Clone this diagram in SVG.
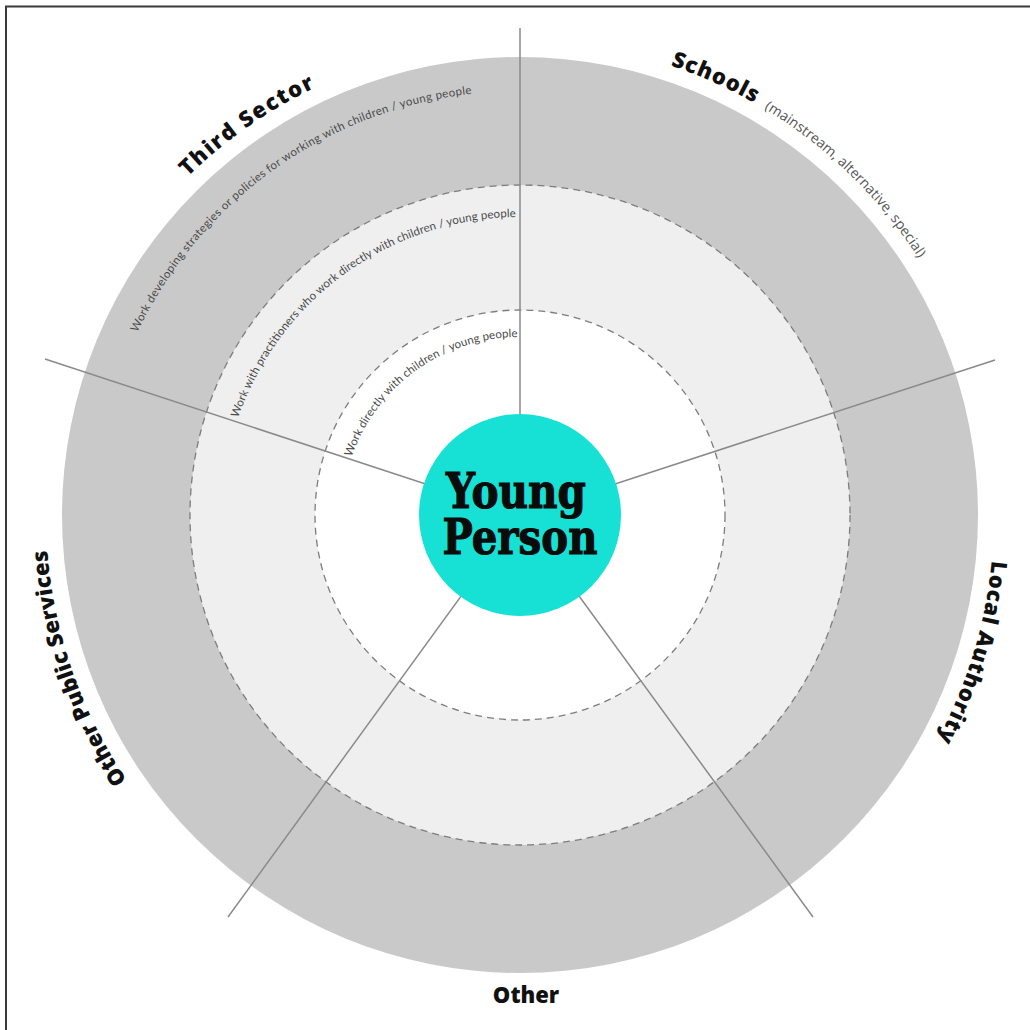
<svg xmlns="http://www.w3.org/2000/svg" xmlns:xlink="http://www.w3.org/1999/xlink" width="1030" height="1030" viewBox="0 0 1030 1030">
  <style>
    .frame { stroke: #3a3a3a; stroke-width: 2; fill: none; }
    .ring-outer { fill: #c9c9c9; }
    .ring-mid { fill: #efefef; stroke: #7d7d7d; stroke-width: 1.3; stroke-dasharray: 7 5; }
    .ring-inner { fill: #ffffff; stroke: #7d7d7d; stroke-width: 1.3; stroke-dasharray: 7 5; }
    .spoke { stroke: #8a8a8a; stroke-width: 1.5; fill: none; }
    .core { fill: #17e1d5; }
    .core-text { font-family: "DejaVu Serif", "Liberation Serif", serif; font-weight: bold; font-size: 49px; fill: #0b0b0b; stroke: #0b0b0b; stroke-width: 1.2; text-anchor: middle; }
    .sector { font-family: "Open Sans", "Lato", "DejaVu Sans", sans-serif; font-weight: 800; font-size: 22px; fill: #111; }
    .sector-note { font-family: "Open Sans", "Lato", sans-serif; font-weight: normal; font-size: 14px; fill: #555; }
    .ring-label { font-family: "Lato", "Open Sans", sans-serif; font-weight: normal; font-size: 11.5px; fill: #4a4a4a; }
  </style>
  <defs>
    <!-- arcs around the centre (520,515), drawn clockwise so lettering faces outward -->
    <path id="arc-third" d="M187.8,176.9 A474,474 0 0 1 319.7,85.4"/>
    <path id="arc-schools" d="M670.4,65.5 A474,474 0 0 1 757,104.5"/>
    <path id="arc-schools-note" d="M764.1,108.7 A474,474 0 0 1 919.8,260.3"/>
    <path id="arc-local" d="M991.8,560.4 A474,474 0 0 1 934.6,744.8"/>
    <path id="arc-public" d="M127,780.1 A474,474 0 0 1 47.2,548.1"/>
    <path id="arc-ring3" d="M137.3,332.5 A424,424 0 0 1 472,93.7"/>
    <path id="arc-ring2" d="M238.2,418 A298,298 0 0 1 516.4,217"/>
    <path id="arc-ring1" d="M351.7,457.05 A178,178 0 0 1 517.8,337"/>
  </defs>

  <rect width="1030" height="1030" fill="#ffffff"/>
  <path class="frame" d="M5,6.5 H1030 M6,6 V1030"/>

  <!-- concentric bands -->
  <g id="ring-strategy">
    <circle class="ring-outer" cx="520" cy="515" r="458"/>
  </g>
  <g id="ring-practitioners">
    <circle class="ring-mid" cx="520" cy="515" r="330"/>
  </g>
  <g id="ring-direct">
    <circle class="ring-inner" cx="520" cy="515" r="205"/>
  </g>

  <!-- spokes dividing the sectors -->
  <g id="connectors">
    <line class="spoke" x1="520" y1="515" x2="520" y2="28"/>
    <line class="spoke" x1="520" y1="515" x2="995" y2="360"/>
    <line class="spoke" x1="520" y1="515" x2="813" y2="917"/>
    <line class="spoke" x1="520" y1="515" x2="228" y2="917"/>
    <line class="spoke" x1="520" y1="515" x2="45" y2="359"/>
  </g>

  <!-- band captions -->
  <g id="ring-labels">
    <text class="ring-label"><textPath xlink:href="#arc-ring3" textLength="429" lengthAdjust="spacing">Work developing strategies or policies for working with children / young people</textPath></text>
    <text class="ring-label"><textPath xlink:href="#arc-ring2" textLength="365" lengthAdjust="spacing">Work with practitioners who work directly with children / young people</textPath></text>
    <text class="ring-label"><textPath xlink:href="#arc-ring1" textLength="218" lengthAdjust="spacing">Work directly with children / young people</textPath></text>
  </g>

  <!-- centre -->
  <g id="young-person">
    <circle class="core" cx="520" cy="515" r="101"/>
    <text class="core-text" x="516" y="508" textLength="140" lengthAdjust="spacingAndGlyphs">Young</text>
    <text class="core-text" x="520" y="554" textLength="155" lengthAdjust="spacingAndGlyphs">Person</text>
  </g>

  <!-- sector names -->
  <g id="third-sector">
    <text class="sector"><textPath xlink:href="#arc-third" textLength="156" lengthAdjust="spacing">Third Sector</textPath></text>
  </g>
  <g id="schools">
    <text class="sector"><textPath xlink:href="#arc-schools" textLength="92" lengthAdjust="spacing">Schools</textPath></text>
    <text class="sector-note"><textPath xlink:href="#arc-schools-note" textLength="217" lengthAdjust="spacing">(mainstream, alternative, special)</textPath></text>
  </g>
  <g id="local-authority">
    <text class="sector"><textPath xlink:href="#arc-local" textLength="188" lengthAdjust="spacing">Local Authority</textPath></text>
  </g>
  <g id="other-public-services">
    <text class="sector"><textPath xlink:href="#arc-public" textLength="246" lengthAdjust="spacing">Other Public Services</textPath></text>
  </g>
  <g id="other">
    <text class="sector" x="526" y="1003" text-anchor="middle">Other</text>
  </g>
</svg>
